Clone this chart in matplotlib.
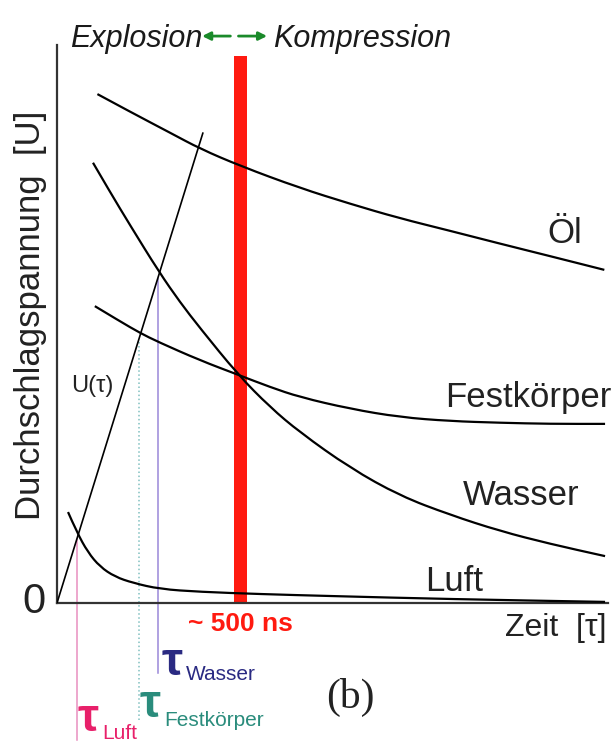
import matplotlib.pyplot as plt
import numpy as np
from matplotlib.path import Path
from matplotlib.patches import PathPatch

# breakdown voltage curves: time in ns, voltage in arbitrary units (0..100)
oel_t = [110, 200, 310, 390, 500, 660, 800, 930, 1070, 1200, 1340, 1490]
oel_u = [91.2, 88.0, 84.2, 81.4, 78.3, 74.4, 71.5, 69.0, 66.7, 64.5, 62.2, 59.7]

wasser_t = [98, 144, 199, 278, 335, 389, 493, 580, 661, 798, 934, 1070, 1206, 1342, 1492]
wasser_u = [78.9, 73.7, 67.7, 59.3, 53.9, 49.3, 40.9, 35.1, 30.6, 24.2, 19.2, 15.8, 12.9, 10.6, 8.4]

fest_t = [103, 171, 226, 275, 389, 493, 580, 661, 798, 934, 1070, 1206, 1342, 1492]
fest_u = [53.2, 50.5, 48.4, 46.8, 43.5, 40.9, 38.7, 36.9, 34.8, 33.3, 32.6, 32.3, 32.1, 32.1]

luft_t = [30, 54, 84, 117, 158, 207, 280, 389, 553, 743, 1070, 1492]
luft_u = [16.3, 12.7, 9.1, 6.5, 4.7, 3.6, 2.5, 2.0, 1.6, 1.25, 0.7, 0.2]

# applied voltage ramp U(tau)
ramp_t = [0, 397]
ramp_u = [0, 84.2]

# breakdown times and the ~500 ns boundary
tau_names = ["Luft", "Festkörper", "Wasser"]
tau_t = [54, 222, 274]
tau_bottom = [-24.6, -21.0, -12.5]
bar_time = 500
bar_height = 98.0


def smooth_line(ax, t, u, **kw):
    # quadratic bezier through the midpoints of the read points
    pts = np.column_stack([t, u]).astype(float)
    verts = [pts[0]]
    codes = [Path.MOVETO]
    for i in range(1, len(pts) - 1):
        verts += [pts[i], (pts[i] + pts[i + 1]) / 2]
        codes += [Path.CURVE3, Path.CURVE3]
    verts.append(pts[-1])
    codes.append(Path.LINETO)
    ax.add_patch(PathPatch(Path(verts, codes), fill=False, **kw))


fig = plt.figure(figsize=(6.15, 7.45), dpi=100)
ax = fig.add_axes([57 / 615, 142 / 745, 551 / 615, 558 / 745])
ax.set_xlim(0, 1500)
ax.set_ylim(0, 100)
ax.set_xticks([])
ax.set_yticks([])
for s in ["top", "right"]:
    ax.spines[s].set_visible(False)
for s in ["left", "bottom"]:
    ax.spines[s].set_color("#333333")
    ax.spines[s].set_linewidth(1.6)

sans = ["Liberation Sans", "DejaVu Sans"]

# red boundary bar
ax.bar(bar_time, bar_height, width=36, color="#ff1a10", zorder=1)

# curves
for t, u in [(oel_t, oel_u), (wasser_t, wasser_u), (fest_t, fest_u), (luft_t, luft_u)]:
    smooth_line(ax, t, u, edgecolor="black", lw=1.6, zorder=3, capstyle="butt")
ax.plot(ramp_t, ramp_u, color="black", lw=1.2, zorder=3)

# tau markers
tau_colors = ["#e890c0", "#80c0c0", "#9a88d8"]
tau_styles = ["-", ":", "-"]
for t, bot, c, ls in zip(tau_t, tau_bottom, tau_colors, tau_styles):
    top = np.interp(t, ramp_t, ramp_u)
    ax.plot([t, t], [bot, top], color=c, lw=1.1, ls=ls, clip_on=False, zorder=2)

# tau labels
text_colors = ["#e8206a", "#2a8c7c", "#2a2a82"]
tau_pos = [(57, -23.0, 124, -24.4), (224, -20.4, 291, -22.0), (284, -12.9, 352, -13.8)]
for name, c, (xt, yt, xs, ys) in zip(tau_names, text_colors, tau_pos):
    ax.text(xt, yt, "τ", color=c, fontsize=34, family=sans, fontweight="bold",
            ha="left", va="baseline")
    ax.text(xs, ys, name, color=c, fontsize=15, family=sans, ha="left", va="baseline")

# curve labels
ax.text(1336, 64.5, "Öl", fontsize=25, family=sans, color="#222222", va="baseline")
ax.text(1056, 35.1, "Festkörper", fontsize=25, family=sans, color="#222222", va="baseline", clip_on=False)
ax.text(1105, 17.6, "Wasser", fontsize=25, family=sans, color="#222222", va="baseline")
ax.text(1002, 2.15, "Luft", fontsize=25, family=sans, color="#222222", va="baseline")
ax.text(95, 38.9, "U(τ)", fontsize=17, family=sans, color="#222222", ha="center", va="center")

# axis texts
ax.text(-30, 0.2, "0", fontsize=30, family=sans, color="#222222", ha="right", va="center")
ax.text(-73, 51.6, "Durchschlagspannung  [U]", fontsize=25, family=sans, color="#222222",
        rotation=90, ha="center", va="center")
ax.text(1497, -4.5, "Zeit  [τ]", fontsize=23, family=sans, color="#222222", ha="right", va="center")
ax.text(bar_time, -3.8, "~ 500 ns", fontsize=19, family=sans, fontweight="bold",
        color="#ff1a10", ha="center", va="center")
ax.text(800, -17.0, "(b)", fontsize=30, family=["Liberation Serif", "DejaVu Serif"],
        color="#222222", ha="center", va="center")

# header
ax.text(35, 99.6, "Explosion", fontsize=22, family=sans, style="italic",
        color="#1a1a1a", ha="left", va="baseline")
ax.text(588, 99.6, "Kompression", fontsize=22, family=sans, style="italic",
        color="#1a1a1a", ha="left", va="baseline")
arrow = dict(arrowstyle="-|>", color="#1a8a2a", lw=2, mutation_scale=12, shrinkA=0, shrinkB=0)
ax.annotate("", xy=(395, 101.6), xytext=(472, 101.6), annotation_clip=False, arrowprops=arrow)
ax.annotate("", xy=(572, 101.6), xytext=(494, 101.6), annotation_clip=False, arrowprops=arrow)

fig.savefig("out.png", dpi=100)
